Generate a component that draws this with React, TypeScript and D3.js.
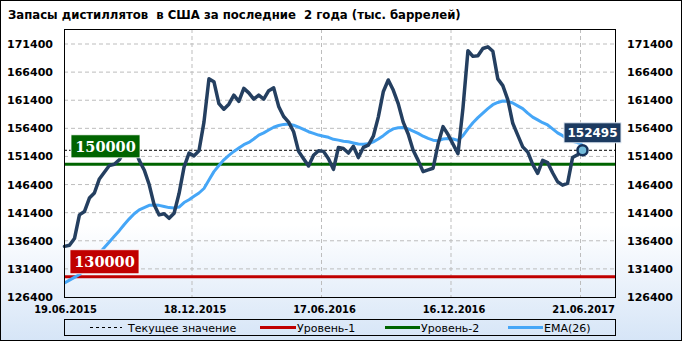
import React from 'react';
import * as d3 from 'd3';

const title = 'Запасы дистиллятов  в США за последние  2 года (тыс. баррелей)';
const stocks = [
  135400, 135600, 136800, 141000, 141600, 144000, 144900, 147400, 148600, 149800,
  150000, 150800, 152300, 153400, 153000, 150700, 149000, 146400, 142800, 141000,
  141200, 140400, 141300, 144800, 149500, 152000, 151500, 152400, 157500, 165200,
  164700, 160800, 159800, 160700, 162300, 161200, 163500, 162700, 161600, 162300,
  161600, 163100, 163600, 160300, 158500, 157500, 155800, 152300, 151000, 149700,
  151600, 152400, 152300, 151000, 149100, 153000, 152800, 152000, 153200, 151200,
  153000, 153400, 155000, 158400, 162900, 165000, 163200, 160800, 157500, 155400,
  152500, 150700, 148700, 149000, 149300, 153600, 156700, 155300, 153600, 151900,
  160000, 170200, 169200, 169300, 170600, 170900, 170100, 165200, 164000, 161500,
  157300, 155200, 153100, 152200, 150000, 148400, 150700, 150300, 148500, 146900,
  146300, 146600, 151200, 151700, 152495,
];
const ema26 = [
  128900, 129400, 129900, 130400, 131300, 132300, 133300, 134200, 135200, 136200,
  137200, 138200, 139300, 140300, 141200, 141900, 142300, 142700, 142750, 142700,
  142500, 142300, 142250, 142400, 143200, 143700, 144300, 144900, 145700, 147200,
  148700, 149800, 150800, 151600, 152300, 152900, 153500, 153900, 154500, 155200,
  155600, 156100, 156600, 156900, 157100, 157150, 156950, 156600, 156200, 155800,
  155500, 155200, 155000, 154800, 154450, 154300, 154100, 154000, 153800, 153600,
  153550, 153650, 154000, 154500, 155100, 155800, 156300, 156500, 156550, 156300,
  155900, 155500, 155000, 154600, 154300, 154200, 154500, 154600, 154500, 154250,
  155100, 156300, 157400, 158300, 159100, 159900, 160600, 161000, 161250, 161200,
  160900, 160400, 159900, 159100, 158400, 157900, 157400, 157000, 156300, 155600,
  155100, 154500, 154100, 153850, 153650,
];
const yTicks = [126400, 131400, 136400, 141400, 146400, 151400, 156400, 161400, 166400, 171400];
const xTickIndex = [0, 26, 52, 78, 104];
const xTickLabels = ['19.06.2015', '18.12.2015', '17.06.2016', '16.12.2016', '21.06.2017'];
const level1 = 130000;
const level2 = 150000;
const currentValue = 152495;
const legendLabels = ['Текущее значение', 'Уровень-1', 'Уровень-2', 'EMA(26)'];

const W = 682, H = 341;
const plot = { left: 64, right: 615, top: 29, bottom: 297 };
const C = {
  dark: '#243f60', ema: '#45a6f7', green: '#006400', red: '#c00000', grid: '#bdbdbd',
};

export default function App() {
  const x = d3.scaleLinear().domain([0, stocks.length - 1]).range([64.5, 582.5]);
  const y = d3.scaleLinear().domain([126400, 171400]).range([plot.bottom, 44]);
  const line = d3.line<number>().x((_, i) => x(i)).y((d) => y(d));
  const yCur = y(currentValue);
  const sansB = 'DejaVu Sans';
  const cond = 'DejaVu Sans Condensed';
  const legendY = 327.5;
  const legendX = [
    { x1: 90, x2: 122, tx: 128, color: '#000', dash: '3,3', w: 1 },
    { x1: 260, x2: 296, tx: 297, color: C.red, dash: undefined, w: 3 },
    { x1: 385, x2: 420, tx: 421, color: C.green, dash: undefined, w: 3 },
    { x1: 508, x2: 543, tx: 544, color: C.ema, dash: undefined, w: 3 },
  ];
  return (
    <svg width={W} height={H} style={{ position: 'absolute', left: 0, top: 0 }}>
      <defs>
        <linearGradient id="bg" x1="0" y1="0" x2="0" y2="1">
          <stop offset="0" stopColor="#ffffff" />
          <stop offset="0.66" stopColor="#ffffff" />
          <stop offset="1" stopColor="#d6e5f7" />
        </linearGradient>
      </defs>
      <rect x={0.5} y={0.5} width={W - 1} height={H - 1} fill="url(#bg)" stroke="#000" />
      <text x={8} y={18.5} fontFamily={cond} fontWeight="bold" fontSize={13} fill="#000" style={{ whiteSpace: 'pre' }}>
        {title}
      </text>
      {/* grid */}
      {yTicks.slice(1).map((t) => (
        <line key={t} x1={plot.left} x2={plot.right} y1={y(t)} y2={y(t)} stroke={C.grid} strokeDasharray="4,3" />
      ))}
      {xTickIndex.slice(1).map((i) => (
        <line key={i} x1={x(i) - 2} x2={x(i) - 2} y1={plot.top} y2={plot.bottom} stroke={C.grid} strokeDasharray="4,3" />
      ))}
      {/* levels */}
      <line x1={plot.left} x2={plot.right} y1={y(level1)} y2={y(level1)} stroke={C.red} strokeWidth={3} />
      <line x1={plot.left} x2={plot.right} y1={y(level2)} y2={y(level2)} stroke={C.green} strokeWidth={3} />
      <line x1={plot.left} x2={plot.right} y1={yCur} y2={yCur} stroke="#000" strokeDasharray="3,2" />
      <path d={line(ema26) || ''} fill="none" stroke={C.ema} strokeWidth={3} strokeLinejoin="round" />
      <path d={line(stocks) || ''} fill="none" stroke={C.dark} strokeWidth={3.5} strokeLinejoin="round" strokeLinecap="round" />
      {/* frame */}
      <rect x={plot.left + 0.5} y={plot.top + 0.5} width={plot.right - plot.left} height={plot.bottom - plot.top} fill="none" stroke="#000" />
      {/* axis labels */}
      {yTicks.map((t) => (
        <g key={t}>
          <text x={53} y={y(t) + 4} textAnchor="end" fontFamily={sansB} fontWeight="bold" fontSize={11}>{t}</text>
          <text x={627} y={y(t) + 4} textAnchor="start" fontFamily={sansB} fontWeight="bold" fontSize={11}>{t}</text>
        </g>
      ))}
      {xTickIndex.map((i, k) => (
        <text key={i} x={x(i) + 1} y={313} textAnchor="middle" fontFamily={cond} fontWeight="bold" fontSize={11}>{xTickLabels[k]}</text>
      ))}
      {/* level labels */}
      <g>
        <rect x={71} y={y(level2) - 29.5} width={69} height={23} fill={C.green} stroke="#fff" strokeWidth={0.8} />
        <text x={105.5} y={y(level2) - 12.5} textAnchor="middle" fontFamily="DejaVu Serif" fontWeight="bold" fontSize={14.5} fill="#fff">{level2}</text>
      </g>
      <g>
        <rect x={70} y={y(level1) - 27} width={69} height={24} fill={C.red} stroke="#fff" strokeWidth={0.8} />
        <text x={104.5} y={y(level1) - 9.5} textAnchor="middle" fontFamily="DejaVu Serif" fontWeight="bold" fontSize={14.5} fill="#fff">{level1}</text>
      </g>
      {/* current value */}
      <g>
        <rect x={564} y={yCur - 27.5} width={57} height={20} fill="#1c3a60" stroke="#dfe8f2" strokeWidth={1} />
        <text x={592.5} y={yCur - 13} textAnchor="middle" fontFamily={sansB} fontWeight="bold" fontSize={12} fill="#fff">{currentValue}</text>
        <circle cx={x(stocks.length - 1)} cy={yCur} r={5} fill="#74bbd9" stroke="#16325a" strokeWidth={2.5} />
      </g>
      {/* legend */}
      <rect x={64.5} y={319.5} width={551} height={16} fill="none" stroke="#000" />
      {legendX.map((l, k) => (
        <g key={k}>
          <line x1={l.x1} x2={l.x2} y1={legendY} y2={legendY} stroke={l.color} strokeWidth={l.w} strokeDasharray={l.dash} />
          <text x={l.tx} y={legendY + 4} fontFamily={sansB} fontSize={11} fill="#000">{legendLabels[k]}</text>
        </g>
      ))}
    </svg>
  );
}
